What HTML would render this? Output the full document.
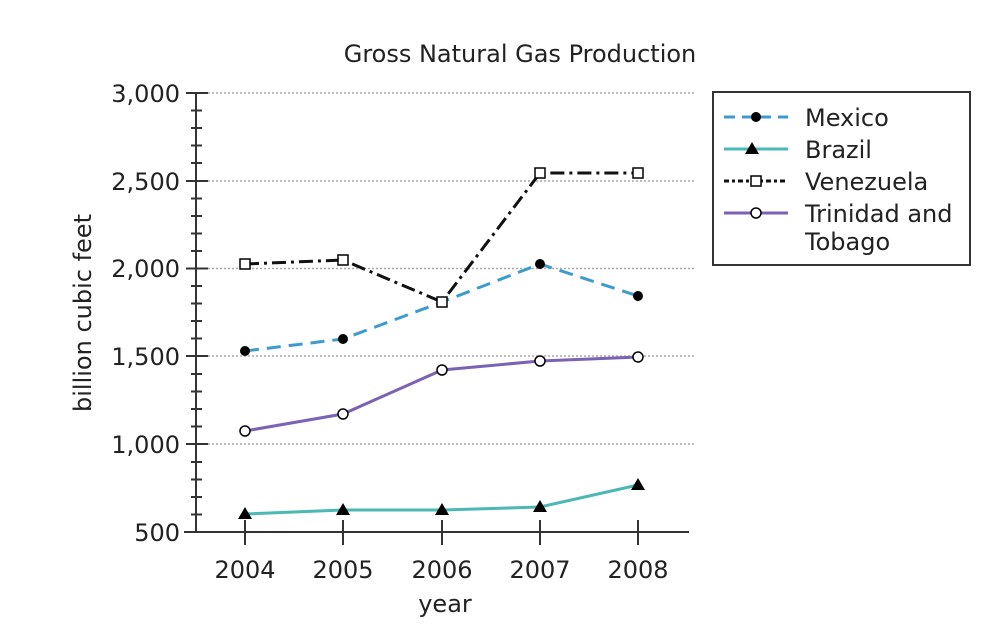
<!DOCTYPE html>
<html><head><meta charset="utf-8"><style>
html,body{margin:0;padding:0;background:#fff;}
svg text{font-family:"DejaVu Sans","Liberation Sans",sans-serif;fill:#222;}
</style></head><body>
<svg width="986" height="622" viewBox="0 0 986 622" xmlns="http://www.w3.org/2000/svg">
<text x="520" y="62" font-size="24" text-anchor="middle">Gross Natural Gas Production</text>
<g stroke="#aaa" stroke-width="1.5" stroke-dasharray="2,2">
<line x1="208" y1="93" x2="695" y2="93"/>
<line x1="208" y1="181" x2="695" y2="181"/>
<line x1="208" y1="268.5" x2="695" y2="268.5"/>
<line x1="208" y1="356" x2="695" y2="356"/>
<line x1="208" y1="444" x2="695" y2="444"/>
</g>
<g stroke="#333" stroke-width="2">
<line x1="196" y1="93" x2="196" y2="532"/>
<line x1="184" y1="532" x2="689" y2="532"/>
<line x1="186" y1="93" x2="208" y2="93"/><line x1="186" y1="181" x2="208" y2="181"/><line x1="186" y1="268.5" x2="208" y2="268.5"/><line x1="186" y1="356" x2="208" y2="356"/><line x1="186" y1="444" x2="208" y2="444"/><line x1="186" y1="532" x2="208" y2="532"/>
<line x1="191" y1="110.5" x2="202" y2="110.5"/><line x1="191" y1="128" x2="202" y2="128"/><line x1="191" y1="145.5" x2="202" y2="145.5"/><line x1="191" y1="163" x2="202" y2="163"/>
<line x1="191" y1="198.5" x2="202" y2="198.5"/><line x1="191" y1="216" x2="202" y2="216"/><line x1="191" y1="233.5" x2="202" y2="233.5"/><line x1="191" y1="251" x2="202" y2="251"/>
<line x1="191" y1="286" x2="202" y2="286"/><line x1="191" y1="303.5" x2="202" y2="303.5"/><line x1="191" y1="321" x2="202" y2="321"/><line x1="191" y1="338.5" x2="202" y2="338.5"/>
<line x1="191" y1="374" x2="202" y2="374"/><line x1="191" y1="391.5" x2="202" y2="391.5"/><line x1="191" y1="409" x2="202" y2="409"/><line x1="191" y1="426.5" x2="202" y2="426.5"/>
<line x1="191" y1="462" x2="202" y2="462"/><line x1="191" y1="479.5" x2="202" y2="479.5"/><line x1="191" y1="497" x2="202" y2="497"/><line x1="191" y1="514.5" x2="202" y2="514.5"/>
<line x1="245" y1="520" x2="245" y2="545"/><line x1="343" y1="520" x2="343" y2="545"/><line x1="442" y1="520" x2="442" y2="545"/><line x1="540" y1="520" x2="540" y2="545"/><line x1="638" y1="520" x2="638" y2="545"/>
</g>
<g font-size="24" text-anchor="end">
<text x="180" y="102">3,000</text><text x="180" y="190">2,500</text><text x="180" y="277">2,000</text><text x="180" y="365">1,500</text><text x="180" y="453">1,000</text><text x="180" y="541">500</text>
</g>
<g font-size="24" text-anchor="middle">
<text x="245" y="578">2004</text><text x="343" y="578">2005</text><text x="442" y="578">2006</text><text x="540" y="578">2007</text><text x="638" y="578">2008</text>
<text x="445" y="612">year</text>
<text transform="translate(91,313) rotate(-90)">billion cubic feet</text>
</g>
<!-- Brazil -->
<polyline points="245,514 343,510 442,510 540,507 638,485" fill="none" stroke="#4bb8b4" stroke-width="3"/>
<g fill="#000"><polygon points="245,507 252,519 238,519"/><polygon points="343,503 350,515 336,515"/><polygon points="442,503 449,515 435,515"/><polygon points="540,500 547,512 533,512"/><polygon points="638,478 645,490 631,490"/></g>
<!-- Trinidad -->
<polyline points="245,431 343,414 442,370 540,361 638,357" fill="none" stroke="#7a62b5" stroke-width="3"/>
<g fill="#fff" stroke="#000" stroke-width="1.5"><circle cx="245" cy="431" r="5"/><circle cx="343" cy="414" r="5"/><circle cx="442" cy="370" r="5"/><circle cx="540" cy="361" r="5"/><circle cx="638" cy="357" r="5"/></g>
<!-- Mexico -->
<polyline points="245,351 343,339 442,302 540,264 638,296" fill="none" stroke="#3d9bd0" stroke-width="3" stroke-dasharray="14,8"/>
<g fill="#000"><circle cx="245" cy="351" r="5"/><circle cx="343" cy="339" r="5"/><circle cx="540" cy="264" r="5"/><circle cx="638" cy="296" r="5"/></g>
<!-- Venezuela -->
<polyline points="245,264 343,260 442,302 540,173 638,173" fill="none" stroke="#111" stroke-width="3" stroke-dasharray="14,5,3,5"/>
<g fill="#fff" stroke="#000" stroke-width="1.5"><rect x="240" y="259" width="10" height="10"/><rect x="338" y="255" width="10" height="10"/><rect x="437" y="297" width="10" height="10"/><rect x="535" y="168" width="10" height="10"/><rect x="633" y="168" width="10" height="10"/></g>
<!-- Legend -->
<rect x="713" y="92" width="257" height="173" fill="#fff" stroke="#333" stroke-width="2"/>
<line x1="724" y1="117" x2="788" y2="117" stroke="#3d9bd0" stroke-width="3" stroke-dasharray="11,7"/>
<circle cx="756" cy="117" r="5" fill="#000"/>
<line x1="724" y1="149" x2="788" y2="149" stroke="#4bb8b4" stroke-width="3"/>
<polygon points="752,142 759,154 745,154" fill="#000"/>
<line x1="724" y1="181" x2="788" y2="181" stroke="#111" stroke-width="3" stroke-dasharray="5,3,3,3"/>
<rect x="751" y="176" width="10" height="10" fill="#fff" stroke="#000" stroke-width="1.5"/>
<line x1="724" y1="213" x2="788" y2="213" stroke="#7a62b5" stroke-width="3"/>
<circle cx="756" cy="213" r="5" fill="#fff" stroke="#000" stroke-width="1.5"/>
<g font-size="24">
<text x="805" y="126">Mexico</text><text x="805" y="158">Brazil</text><text x="805" y="190">Venezuela</text><text x="805" y="222">Trinidad and</text><text x="805" y="250">Tobago</text>
</g>
</svg>
</body></html>
